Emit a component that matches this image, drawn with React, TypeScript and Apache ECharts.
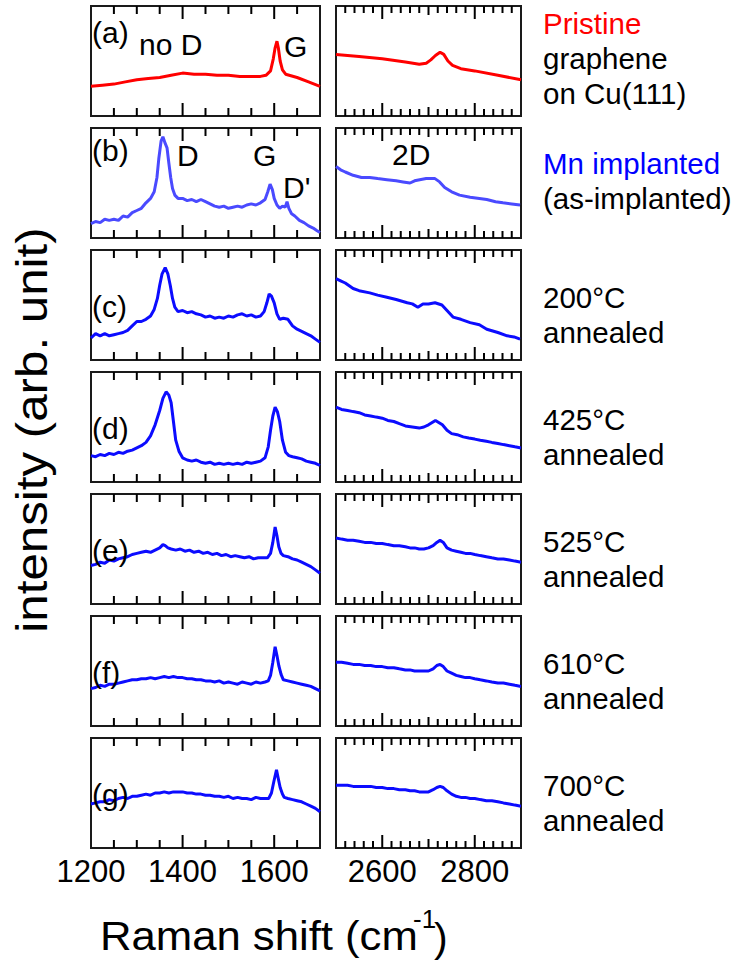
import React, { useEffect, useRef } from 'react';
import * as echarts from 'echarts';

type Pt = [number, number];

// ---- spectra (x = Raman shift, y = intensity, arb. unit normalised per panel 0..100) ----
const A_LEFT: Pt[] = [[1200,27],[1225,28],[1250,29],[1275,31],[1300,33],[1325,34],[1350,35],[1375,37],[1400,39],[1425,38],[1450,38],[1475,37],[1500,37],[1525,36],[1550,36],[1570,36],[1582,37],[1592,41],[1598,52],[1602,62],[1606,68],[1609,62],[1613,50],[1618,42],[1625,38],[1650,35],[1675,31],[1700,27]];
const A_RIGHT: Pt[] = [[2500,56],[2550,54],[2600,52],[2650,49],[2680,47],[2695,48],[2705,51],[2715,55],[2725,58],[2733,56],[2742,50],[2752,46],[2770,43],[2800,41],[2850,37],[2900,33]];

const B_LEFT: Pt[] = [[1200,13],[1210,15],[1220,14],[1230,17],[1240,16],[1250,17],[1260,16],[1270,20],[1280,19],[1290,23],[1300,25],[1310,27],[1320,32],[1330,36],[1338,42],[1344,55],[1348,72],[1353,88],[1357,92],[1362,86],[1366,82],[1370,68],[1374,55],[1378,45],[1383,39],[1390,36],[1400,36],[1410,34],[1420,35],[1430,33],[1440,35],[1450,33],[1460,31],[1470,29],[1480,28],[1490,29],[1500,27],[1510,28],[1520,29],[1530,28],[1540,30],[1550,31],[1560,30],[1570,32],[1580,35],[1586,42],[1591,49],[1596,44],[1600,36],[1606,30],[1612,27],[1618,29],[1624,28],[1628,33],[1632,27],[1638,22],[1645,20],[1655,16],[1665,14],[1675,11],[1685,9],[1692,7],[1700,5]];
const B_RIGHT: Pt[] = [[2500,65],[2510,62],[2520,60],[2537,57],[2555,55],[2573,55],[2590,54],[2610,53],[2630,52],[2645,51],[2660,50],[2670,52],[2681,53],[2695,54],[2714,54],[2724,51],[2735,46],[2750,42],[2767,39],[2790,37],[2810,36],[2826,35],[2845,33],[2861,32],[2880,31],[2898,30]];

const C_LEFT: Pt[] = [[1200,20],[1210,24],[1220,22],[1230,24],[1240,22],[1250,23],[1260,24],[1270,25],[1280,27],[1290,31],[1300,35],[1310,35],[1320,37],[1330,40],[1338,46],[1345,56],[1350,68],[1355,78],[1362,84],[1368,78],[1373,68],[1378,56],[1383,48],[1390,44],[1400,45],[1410,43],[1420,44],[1430,42],[1440,41],[1450,39],[1460,40],[1470,38],[1480,39],[1490,38],[1500,40],[1510,39],[1520,41],[1530,42],[1540,40],[1550,41],[1560,39],[1570,40],[1578,44],[1584,52],[1589,60],[1594,58],[1600,52],[1606,42],[1612,37],[1620,38],[1630,37],[1640,31],[1650,28],[1660,26],[1670,24],[1680,22],[1690,19],[1700,16]];
const C_RIGHT: Pt[] = [[2500,74],[2510,72],[2520,70],[2537,65],[2550,63],[2573,61],[2590,59],[2610,57],[2630,55],[2654,52],[2665,51],[2677,48],[2688,51],[2700,51],[2714,52],[2729,50],[2740,45],[2753,39],[2770,37],[2790,34],[2810,32],[2826,28],[2850,25],[2870,22],[2885,21],[2898,19]];

const D_LEFT: Pt[] = [[1200,24],[1210,23],[1220,25],[1230,24],[1240,26],[1250,25],[1260,27],[1270,26],[1280,28],[1290,29],[1300,31],[1310,33],[1320,36],[1330,42],[1340,52],[1350,65],[1357,76],[1364,82],[1370,79],[1375,72],[1380,55],[1385,38],[1392,28],[1400,22],[1410,20],[1420,19],[1430,20],[1440,18],[1450,17],[1460,18],[1470,16],[1480,17],[1490,16],[1500,17],[1510,16],[1520,17],[1530,16],[1540,18],[1550,17],[1560,18],[1570,19],[1580,22],[1587,32],[1592,47],[1597,60],[1602,68],[1607,64],[1612,55],[1618,38],[1625,27],[1632,24],[1640,23],[1650,22],[1660,21],[1670,19],[1680,18],[1690,17],[1700,15]];
const D_RIGHT: Pt[] = [[2500,68],[2512,66],[2525,65],[2537,64],[2550,63],[2562,61],[2575,60],[2587,59],[2600,58],[2612,56],[2625,55],[2637,53],[2650,51],[2665,50],[2680,49],[2690,50],[2700,52],[2715,56],[2730,52],[2740,47],[2750,44],[2762,43],[2775,41],[2787,40],[2800,39],[2812,38],[2825,37],[2837,36],[2850,35],[2862,34],[2875,33],[2887,32],[2900,31]];

const E_LEFT: Pt[] = [[1200,35],[1210,36],[1220,38],[1230,37],[1240,40],[1250,39],[1260,41],[1270,42],[1280,43],[1290,45],[1300,46],[1310,47],[1320,48],[1330,47],[1340,49],[1350,51],[1357,54],[1362,53],[1368,51],[1375,50],[1385,49],[1395,50],[1405,48],[1415,49],[1425,47],[1435,48],[1445,46],[1455,47],[1465,45],[1475,46],[1485,44],[1495,45],[1505,43],[1515,44],[1525,43],[1535,42],[1545,43],[1555,41],[1565,42],[1575,42],[1585,42],[1592,46],[1597,56],[1602,70],[1606,62],[1610,52],[1615,46],[1620,44],[1630,43],[1640,41],[1650,40],[1660,38],[1670,36],[1680,34],[1690,31],[1700,28]];
const E_RIGHT: Pt[] = [[2500,60],[2512,59],[2525,58],[2537,58],[2550,57],[2562,56],[2575,56],[2587,55],[2600,55],[2612,54],[2625,53],[2637,53],[2650,52],[2660,51],[2670,51],[2680,50],[2690,50],[2700,51],[2710,53],[2718,56],[2725,58],[2732,56],[2740,51],[2750,49],[2760,48],[2770,47],[2780,46],[2790,46],[2800,45],[2812,44],[2825,43],[2837,42],[2850,41],[2862,41],[2875,40],[2887,39],[2900,38]];

const F_LEFT: Pt[] = [[1200,34],[1210,35],[1220,37],[1230,36],[1240,38],[1250,38],[1260,39],[1270,40],[1280,41],[1290,42],[1300,42],[1310,43],[1320,43],[1330,44],[1340,43],[1350,44],[1360,45],[1370,44],[1380,45],[1390,44],[1400,44],[1410,43],[1420,43],[1430,42],[1440,42],[1450,41],[1460,41],[1470,40],[1480,41],[1490,39],[1500,40],[1510,39],[1520,38],[1530,40],[1540,39],[1550,38],[1560,40],[1570,39],[1580,40],[1587,41],[1592,46],[1597,58],[1602,72],[1606,64],[1610,55],[1615,47],[1620,42],[1630,41],[1640,40],[1650,39],[1660,38],[1670,37],[1680,36],[1690,34],[1700,32]];
const F_RIGHT: Pt[] = [[2500,58],[2512,58],[2525,57],[2537,56],[2550,56],[2562,55],[2575,55],[2587,54],[2600,54],[2612,53],[2625,53],[2637,52],[2650,51],[2660,51],[2670,50],[2680,50],[2690,50],[2700,50],[2710,52],[2718,55],[2725,56],[2732,54],[2740,50],[2750,48],[2760,46],[2770,45],[2780,44],[2790,44],[2800,43],[2812,42],[2825,41],[2837,40],[2850,39],[2862,39],[2875,38],[2887,37],[2900,36]];

const G_LEFT: Pt[] = [[1200,40],[1210,41],[1220,42],[1230,42],[1240,44],[1250,43],[1260,45],[1270,46],[1280,45],[1290,47],[1300,47],[1310,48],[1320,49],[1330,48],[1340,50],[1350,50],[1360,51],[1370,50],[1380,51],[1390,51],[1400,51],[1410,50],[1420,50],[1430,49],[1440,49],[1450,48],[1460,48],[1470,47],[1480,47],[1490,46],[1500,47],[1510,45],[1520,46],[1530,45],[1540,45],[1550,44],[1560,46],[1570,45],[1580,45],[1588,45],[1594,50],[1599,60],[1605,71],[1609,63],[1613,55],[1618,49],[1622,46],[1630,45],[1640,44],[1650,43],[1660,42],[1670,40],[1680,38],[1690,36],[1700,33]];
const G_RIGHT: Pt[] = [[2500,57],[2512,57],[2525,57],[2537,56],[2550,56],[2562,56],[2575,56],[2587,55],[2600,55],[2612,54],[2625,54],[2637,53],[2650,53],[2660,52],[2670,52],[2680,51],[2690,51],[2700,51],[2710,53],[2718,55],[2725,56],[2732,55],[2740,52],[2750,49],[2760,47],[2770,46],[2780,46],[2790,45],[2800,45],[2812,44],[2825,43],[2837,43],[2850,42],[2862,41],[2875,40],[2887,39],[2900,38]];

const LEFT_SPECTRA: Pt[][] = [A_LEFT, B_LEFT, C_LEFT, D_LEFT, E_LEFT, F_LEFT, G_LEFT];
const RIGHT_SPECTRA: Pt[][] = [A_RIGHT, B_RIGHT, C_RIGHT, D_RIGHT, E_RIGHT, F_RIGHT, G_RIGHT];
const LINE_COLORS = ['#ff0000', '#4a4aff', '#0c0cff', '#0c0cff', '#0c0cff', '#0c0cff', '#0c0cff'];
const PANEL_LABELS = ['(a)', '(b)', '(c)', '(d)', '(e)', '(f)', '(g)'];

// sample descriptions on the right
const SAMPLE_LINES: { text: string; color: string }[][] = [
  [{ text: 'Pristine', color: '#ff0000' }, { text: 'graphene', color: '#000' }, { text: 'on Cu(111)', color: '#000' }],
  [{ text: 'Mn implanted', color: '#0000ff' }, { text: '(as-implanted)', color: '#000' }],
  [{ text: '200°C', color: '#000' }, { text: 'annealed', color: '#000' }],
  [{ text: '425°C', color: '#000' }, { text: 'annealed', color: '#000' }],
  [{ text: '525°C', color: '#000' }, { text: 'annealed', color: '#000' }],
  [{ text: '610°C', color: '#000' }, { text: 'annealed', color: '#000' }],
  [{ text: '700°C', color: '#000' }, { text: 'annealed', color: '#000' }],
];

// axis ranges & ticks
const LEFT_MIN = 1200, LEFT_MAX = 1700;
const RIGHT_MIN = 2500, RIGHT_MAX = 2900;
const LEFT_MINOR_TICKS = [1250, 1300, 1350, 1450, 1500, 1550, 1650];
const LEFT_MAJOR_TICKS = [1400, 1600];
const RIGHT_MINOR_TICKS = [2520, 2540, 2560, 2580, 2620, 2640, 2660, 2680, 2720, 2740, 2760, 2780, 2820, 2840, 2860, 2880];
const RIGHT_MID_TICKS = [2700];
const RIGHT_MAJOR_TICKS = [2600, 2800];

const FONT = 'Liberation Sans, Arial, Helvetica, sans-serif';

// layout
const ROW_TOP0 = 6, ROW_PITCH = 122, ROW_H = 110;
const LEFT_X = 91, LEFT_W = 229;
const RIGHT_X = 336, RIGHT_W = 185;

const tickRender = (_params: any, api: any) => {
  const v = api.value(0);
  const len = api.value(1);
  const b = api.coord([v, 0]);
  const t = api.coord([v, 100]);
  return {
    type: 'group',
    children: [
      { type: 'line', shape: { x1: b[0], y1: b[1], x2: b[0], y2: b[1] - len }, style: { stroke: '#000', lineWidth: 2 } },
      { type: 'line', shape: { x1: t[0], y1: t[1], x2: t[0], y2: t[1] + len }, style: { stroke: '#000', lineWidth: 2 } },
    ],
  };
};

function buildOption() {
  const grid: any[] = [];
  const xAxis: any[] = [];
  const yAxis: any[] = [];
  const series: any[] = [];
  const graphic: any[] = [];

  for (let r = 0; r < 7; r++) {
    const top = ROW_TOP0 + r * ROW_PITCH;
    const last = r === 6;
    for (let c = 0; c < 2; c++) {
      const gi = r * 2 + c;
      const isLeft = c === 0;
      grid.push({
        left: isLeft ? LEFT_X : RIGHT_X,
        top,
        width: isLeft ? LEFT_W : RIGHT_W,
        height: ROW_H,
        show: true,
        borderColor: '#1a1a1a',
        borderWidth: 2,
        backgroundColor: 'transparent',
      });
      xAxis.push({
        type: 'value',
        gridIndex: gi,
        min: isLeft ? LEFT_MIN : RIGHT_MIN,
        max: isLeft ? LEFT_MAX : RIGHT_MAX,
        interval: isLeft ? 200 : 100,
        axisLine: { show: false },
        axisTick: { show: false },
        splitLine: { show: false },
        axisLabel: {
          show: last,
          fontSize: 31,
          color: '#000',
          fontFamily: FONT,
          margin: 8,
          formatter: (v: number) => (v % 200 === 0 ? String(v) : ''),
        },
      });
      yAxis.push({ type: 'value', gridIndex: gi, min: 0, max: 100, show: false });

      series.push({
        type: 'line',
        xAxisIndex: gi,
        yAxisIndex: gi,
        data: isLeft ? LEFT_SPECTRA[r] : RIGHT_SPECTRA[r],
        showSymbol: false,
        symbol: 'none',
        lineStyle: { color: LINE_COLORS[r], width: 3 },
        silent: true,
        z: 3,
      });

      const ticks: number[][] = isLeft
        ? [...LEFT_MINOR_TICKS.map((v) => [v, 8]), ...LEFT_MAJOR_TICKS.map((v) => [v, 13])]
        : [...RIGHT_MINOR_TICKS.map((v) => [v, 7]), ...RIGHT_MID_TICKS.map((v) => [v, 9]), ...RIGHT_MAJOR_TICKS.map((v) => [v, 13])];
      series.push({
        type: 'custom',
        xAxisIndex: gi,
        yAxisIndex: gi,
        data: ticks,
        renderItem: tickRender,
        silent: true,
        clip: false,
        z: 4,
      });
    }
  }

  const txt = (text: string, x: number, y: number, fontSize: number, fill = '#000', extra: any = {}) => ({
    type: 'text',
    x,
    y,
    silent: true,
    z: 10,
    ...extra,
    style: { text, fontSize, fill, fontFamily: FONT, align: 'left', verticalAlign: 'middle' },
  });

  // panel labels
  const labelY = [32, 150];
  PANEL_LABELS.forEach((l, i) => {
    const y = i < 2 ? labelY[i] : 306 + (i - 2) * 122;
    graphic.push(txt(l, 92, y, 30));
  });
  // peak annotations
  graphic.push(txt('no D', 139, 44, 30));
  graphic.push(txt('G', 284, 46, 30));
  graphic.push(txt('D', 177, 155, 30));
  graphic.push(txt('G', 253, 155, 30));
  graphic.push(txt("D'", 283, 187, 30));
  graphic.push(txt('2D', 392, 154, 30));

  // sample descriptions
  const sampleStarts = [23, 163, 297, 419, 541, 663, 785];
  SAMPLE_LINES.forEach((lines, i) => {
    lines.forEach((ln, j) => {
      graphic.push(txt(ln.text, 543, sampleStarts[i] + j * 35, 29.5, ln.color));
    });
  });

  // axis titles
  graphic.push({
    type: 'text',
    x: 32,
    y: 430,
    rotation: Math.PI / 2,
    scaleX: 1.12,
    silent: true,
    style: { text: 'intensity (arb. unit)', fontSize: 44, fill: '#000', fontFamily: FONT, align: 'center', verticalAlign: 'middle' },
  });
  graphic.push({
    type: 'text',
    x: 100,
    y: 936,
    scaleX: 1.065,
    silent: true,
    style: { text: 'Raman shift (cm', fontSize: 41, fill: '#000', fontFamily: FONT, align: 'left', verticalAlign: 'middle' },
  });
  graphic.push({
    type: 'text',
    x: 413,
    y: 919,
    silent: true,
    style: { text: '-1', fontSize: 26, fill: '#000', fontFamily: FONT, align: 'left', verticalAlign: 'middle' },
  });
  graphic.push({
    type: 'text',
    x: 434,
    y: 938,
    silent: true,
    style: { text: ')', fontSize: 41, fill: '#000', fontFamily: FONT, align: 'left', verticalAlign: 'middle' },
  });

  return {
    animation: false,
    backgroundColor: '#ffffff',
    grid,
    xAxis,
    yAxis,
    series,
    graphic,
  };
}

export default function App() {
  const ref = useRef<HTMLDivElement>(null);
  useEffect(() => {
    if (!ref.current) return;
    const chart = echarts.init(ref.current, undefined, { renderer: 'svg' });
    chart.setOption(buildOption() as any);
    return () => chart.dispose();
  }, []);
  return <div ref={ref} style={{ position: 'fixed', left: 0, top: 0, width: 737, height: 960 }} />;
}
